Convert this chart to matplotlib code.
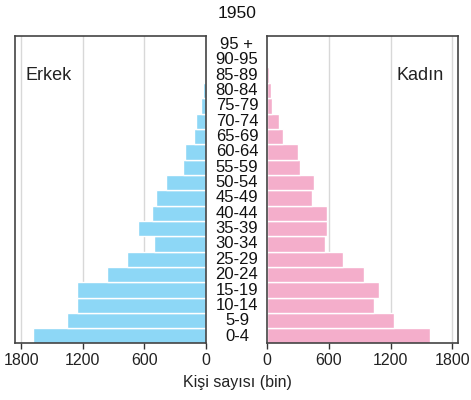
import matplotlib
matplotlib.use("Agg")
import matplotlib.pyplot as plt
import matplotlib.transforms as mtransforms

plt.rcParams['font.family'] = ['Liberation Sans', 'DejaVu Sans']

age_groups = ["0-4", "5-9", "10-14", "15-19", "20-24", "25-29", "30-34", "35-39",
              "40-44", "45-49", "50-54", "55-59", "60-64", "65-69", "70-74",
              "75-79", "80-84", "85-89", "90-95", "95 +"]
male = [1685, 1350, 1258, 1258, 964, 765, 507, 667, 527, 488, 390,
        220, 200, 113, 93, 44, 25, 8, 3, 1]
female = [1587, 1233, 1038, 1087, 940, 739, 563, 583, 583, 436, 452,
          316, 296, 150, 111, 49, 33, 20, 10, 4]
ticks = [0, 600, 1200, 1800]
tick_labels = ["0", "600", "1200", "1800"]

W, H = 471, 400
fig = plt.figure(figsize=(W / 100, H / 100), dpi=100)

top, bottom = 36, 343
axL = fig.add_axes([15 / W, (H - bottom) / H, (206 - 15) / W, (bottom - top) / H])
axR = fig.add_axes([267.3 / W, (H - bottom) / H, (458.3 - 267.3) / W, (bottom - top) / H])

blue = "#8dd7f6"
pink = "#f4aecb"
y = list(range(len(age_groups)))

axL.barh(y, male, height=1.0, color=blue, edgecolor="white", linewidth=1.0, zorder=2)
axR.barh(y, female, height=1.0, color=pink, edgecolor="white", linewidth=1.0, zorder=2)

axL.set_xlim(1860, 0)
axR.set_xlim(0, 1860)
for ax in (axL, axR):
    ax.set_ylim(-0.45, 19.55)
    ax.set_yticks([])
    ax.set_xticks(ticks)
    ax.set_xticklabels(tick_labels, fontsize=11.5, color="#222222")
    ax.tick_params(axis="x", direction="out", length=4, width=1, color="#333333", pad=3)
    ax.grid(axis="x", color="#d8d8d8", linewidth=1.0, zorder=0)
    ax.set_axisbelow(True)
    for s in ax.spines.values():
        s.set_color("#444444")
        s.set_linewidth(1.2)

trans = mtransforms.blended_transform_factory(fig.transFigure, axR.transData)
for yi, lab in zip(y, age_groups):
    fig.text(237 / W, yi, lab, transform=trans, ha="center", va="center",
             fontsize=12, color="#111111")

fig.text(49 / W, 1 - 76 / H, "Erkek", ha="center", va="center", fontsize=13, color="#222222")
fig.text(420 / W, 1 - 76 / H, "Kadın", ha="center", va="center", fontsize=13, color="#222222")
fig.text(237 / W, 1 - 14 / H, "1950", ha="center", va="center", fontsize=12.5, color="#111111")
fig.text(237 / W, 1 - 383 / H, "Kişi sayısı (bin)", ha="center", va="center", fontsize=11.5, color="#222222")

fig.savefig("out.png", dpi=100)
